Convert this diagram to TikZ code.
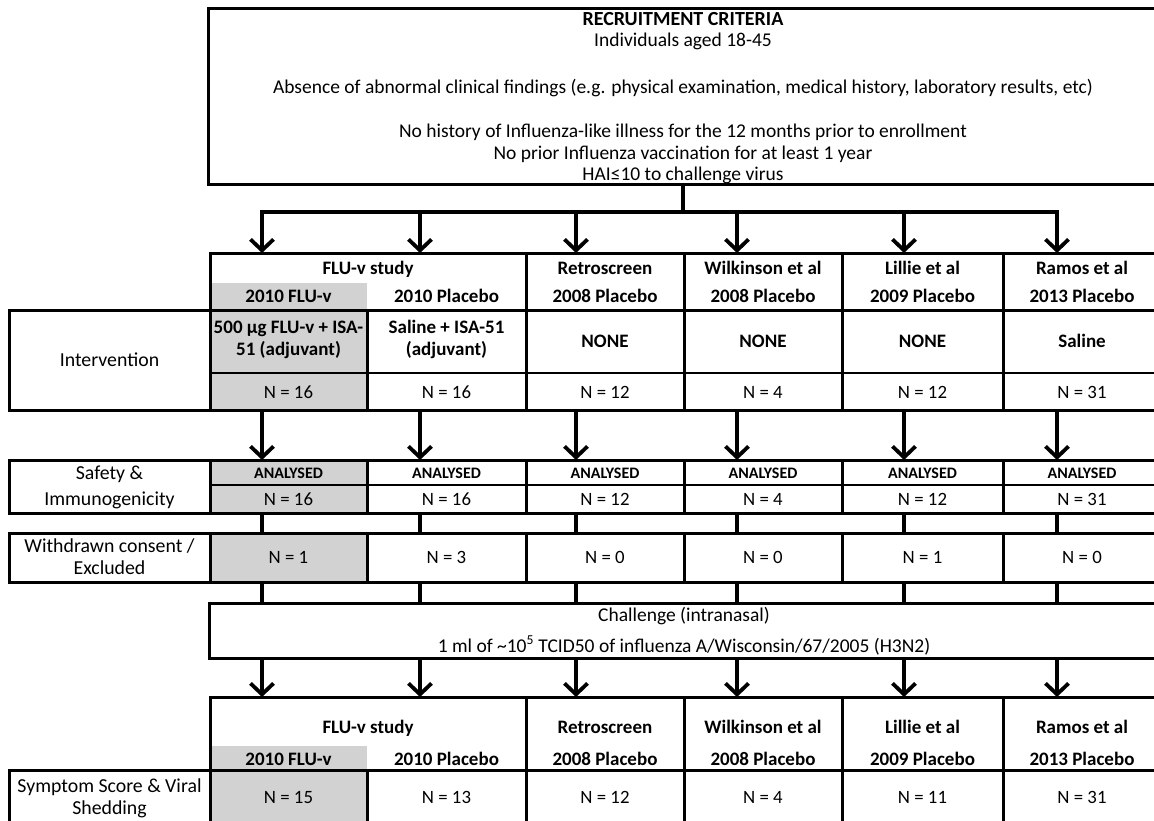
\documentclass[tikz,border=0pt]{standalone}
\usepackage{fontspec}
\setmainfont{Carlito}
\usetikzlibrary{arrows.meta}
\definecolor{cellgray}{RGB}{210,210,210}
\begin{document}
\begin{tikzpicture}[x=1pt,y=-1pt,
  every node/.style={inner sep=0pt,outer sep=0pt},
  txt/.style={anchor=base,font=\fontsize{18.8}{22}\selectfont},
  toptxt/.style={anchor=base,font=\fontsize{19.5}{22}\selectfont},
  lbl/.style={anchor=base,font=\fontsize{19.8}{22}\selectfont},
  bld/.style={anchor=base,font=\fontsize{19}{22}\selectfont\bfseries},
  sml/.style={anchor=base,font=\fontsize{16}{18}\selectfont\bfseries},
  box/.style={draw,line width=3pt,anchor=north west},
  shade/.style={fill=cellgray,anchor=north west},
  conn/.style={line width=3.8pt},
  tip/.tip={Straight Barb[length=11pt,width=23pt]},
  arr/.style={line width=3.8pt,-tip},
  divider/.style={line width=1.3pt}]
\clip (0,0) rectangle (1154,820);
% shaded cells
\node[shade,minimum width=157pt,minimum height=27pt] (g1) at (210,283) {};
\node[shade,minimum width=157pt,minimum height=100pt] (g2) at (210,310) {};
\node[shade,minimum width=157pt,minimum height=53pt] (g3) at (210,460) {};
\node[shade,minimum width=157pt,minimum height=49pt] (g4) at (210,533) {};
\node[shade,minimum width=157pt,minimum height=24pt] (g5) at (210,746) {};
\node[shade,minimum width=157pt,minimum height=60pt] (g6) at (210,770) {};
% top box
\node[box,minimum width=950pt,minimum height=176pt] (top) at (208,8) {};
% header table
\node[box,minimum width=316pt,minimum height=57pt] (h1) at (210,253) {};
\foreach \i/\x/\w in {3/526/158,4/684/158,5/842/161,6/1003/158}
  \node[box,minimum width=\w pt,minimum height=57pt] (h\i) at (\x,253) {};
% intervention row
\node[box,minimum width=201pt,minimum height=100pt] (iL) at (9,310) {};
\foreach \i/\x/\w in {1/210/157,2/367/159,3/526/158,4/684/158,5/842/161,6/1003/158}
  \node[box,minimum width=\w pt,minimum height=100pt] (i\i) at (\x,310) {};
\coordinate (d1) at (0,373);
\draw[divider] (i1.west |- d1) -- (i6.east |- d1);
% safety row
\node[box,minimum width=201pt,minimum height=53pt] (sL) at (9,460) {};
\foreach \i/\x/\w in {1/210/157,2/367/159,3/526/158,4/684/158,5/842/161,6/1003/158}
  \node[box,minimum width=\w pt,minimum height=53pt] (s\i) at (\x,460) {};
\coordinate (d2) at (0,485);
\draw[divider] (s1.west |- d2) -- (s6.east |- d2);
% withdrawn row
\node[box,minimum width=201pt,minimum height=49pt] (wL) at (9,533) {};
\foreach \i/\x/\w in {1/210/157,2/367/159,3/526/158,4/684/158,5/842/161,6/1003/158}
  \node[box,minimum width=\w pt,minimum height=49pt] (w\i) at (\x,533) {};
% challenge box
\node[box,minimum width=950pt,minimum height=55pt] (ch) at (209,603) {};
% bottom header
\node[box,minimum width=316pt,minimum height=73pt] (b1) at (210,697) {};
\foreach \i/\x/\w in {3/526/158,4/684/158,5/842/161,6/1003/158}
  \node[box,minimum width=\w pt,minimum height=73pt] (b\i) at (\x,697) {};
% symptom row
\node[box,minimum width=201pt,minimum height=60pt] (yL) at (9,770) {};
\foreach \i/\x/\w in {1/210/157,2/367/159,3/526/158,4/684/158,5/842/161,6/1003/158}
  \node[box,minimum width=\w pt,minimum height=60pt] (y\i) at (\x,770) {};

% texts: recruitment
\node[anchor=base,font=\fontsize{20}{22}\selectfont\bfseries] (r0) at (683,25) {RECRUITMENT CRITERIA};
\node[toptxt] (r1) at (683,46) {Individuals aged 18-45};
\node[toptxt] (r2) at (683,93) {Absence of abnormal clinical findings (e.g. physical examination, medical history, laboratory results, etc)};
\node[toptxt] (r3) at (683,137) {No history of Influenza-like illness for the 12 months prior to enrollment};
\node[toptxt] (r4) at (683,159) {No prior Influenza vaccination for at least 1 year};
\node[toptxt] (r5) at (683,180) {HAI≤10 to challenge virus};
% header texts
\node[bld] (hf) at (368,274) {FLU-v study};
\node[bld] (hf1) at (288.5,302) {2010 FLU-v};
\node[bld] (hf2) at (446.5,302) {2010 Placebo};
\node[bld] (bf) at (368,733) {FLU-v study};
\node[bld] (bf1) at (288.5,765) {2010 FLU-v};
\node[bld] (bf2) at (446.5,765) {2010 Placebo};
\foreach \i/\x/\a/\b in {3/605/Retroscreen/2008 Placebo,4/763/Wilkinson et al/2008 Placebo,5/922.5/Lillie et al/2009 Placebo,6/1082/Ramos et al/2013 Placebo} {
  \node[bld] (ha\i) at (\x,274) {\a};
  \node[bld] (hb\i) at (\x,302) {\b};
  \node[bld] (ba\i) at (\x,733) {\a};
  \node[bld] (bb\i) at (\x,765) {\b};
}
% intervention texts
\node[lbl] (il) at (109.5,366) {Intervention};
\node[bld] (it1a) at (288.5,333) {500 µg FLU-v + ISA-};
\node[bld] (it1b) at (288.5,355) {51 (adjuvant)};
\node[bld] (it2a) at (446.5,333) {Saline + ISA-51};
\node[bld] (it2b) at (446.5,355) {(adjuvant)};
\foreach \i/\x/\t in {3/605/NONE,4/763/NONE,5/922.5/NONE,6/1082/Saline}
  \node[bld] (it\i) at (\x,347) {\t};
\foreach \i/\x/\n in {1/288.5/16,2/446.5/16,3/605/12,4/763/4,5/922.5/12,6/1082/31}
  \node[txt] (in\i) at (\x,398) {N = \n};
% safety texts
\node[lbl] (sl1) at (109.5,479) {Safety \&};
\node[lbl] (sl2) at (109.5,505) {Immunogenicity};
\foreach \i/\x/\n in {1/288.5/16,2/446.5/16,3/605/12,4/763/4,5/922.5/12,6/1082/31} {
  \node[sml] (sa\i) at (\x,478) {ANALYSED};
  \node[txt] (sn\i) at (\x,505) {N = \n};
}
% withdrawn texts
\node[lbl] (wl1) at (109.5,552) {Withdrawn consent /};
\node[lbl] (wl2) at (109.5,574) {Excluded};
\foreach \i/\x/\n in {1/288.5/1,2/446.5/3,3/605/0,4/763/0,5/922.5/1,6/1082/0}
  \node[txt] (wn\i) at (\x,563) {N = \n};
% challenge texts
\node[toptxt] (c1) at (684,621) {Challenge (intranasal)};
\node[toptxt] (c2) at (684,652) {1 ml of \textasciitilde10\textsuperscript{5} TCID50 of influenza A/Wisconsin/67/2005 (H3N2)};
% symptom texts
\node[lbl] (yl1) at (109.5,792) {Symptom Score \& Viral};
\node[lbl] (yl2) at (109.5,814) {Shedding};
\foreach \i/\x/\n in {1/288.5/15,2/446.5/13,3/605/12,4/763/4,5/922.5/11,6/1082/31}
  \node[txt] (yn\i) at (\x,803) {N = \n};

% connectors
\coordinate (a1) at (262,0);
\coordinate (a2) at (420,0);
\coordinate (a3) at (576,0);
\coordinate (a4) at (737,0);
\coordinate (a5) at (904,0);
\coordinate (a6) at (1057,0);
\coordinate (bar) at (0,212);
\draw[conn] (top.south) -- (top.south |- bar);
\draw[conn,tip-tip] (a1 |- h1.north) -- (a1 |- bar) -- (a6 |- bar) -- (a6 |- h6.north);
\foreach \k in {2,...,5}
  \draw[arr] (a\k |- bar) -- (a\k |- h1.north);
\foreach \k in {1,...,6} {
  \draw[arr] (a\k |- i1.south) -- (a\k |- s1.north);
  \draw[conn] (a\k |- s1.south) -- (a\k |- w1.north);
  \draw[conn] (a\k |- w1.south) -- (a\k |- ch.north);
  \draw[arr] (a\k |- ch.south) -- (a\k |- b1.north);
}
\end{tikzpicture}
\end{document}
